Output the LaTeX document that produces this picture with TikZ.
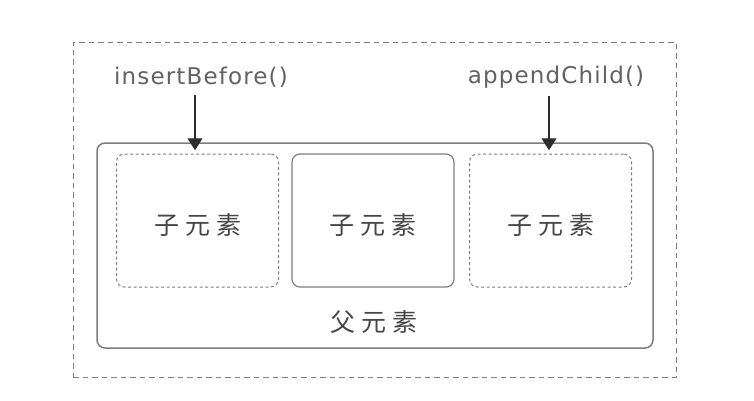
\documentclass[tikz,border=0pt]{standalone}
\usepackage{fontspec}
\usepackage{tikz}
\usetikzlibrary{arrows.meta,positioning,calc}
\newfontfamily\cjk{Noto Sans CJK SC}
\newfontfamily\apifont[LetterSpace=5]{DejaVu Sans}
\definecolor{linegray}{RGB}{125,125,125}
\definecolor{textgray}{RGB}{70,70,70}
\definecolor{arrowgray}{RGB}{45,45,45}

\begin{document}
\begin{tikzpicture}[x=1pt,y=-1pt,
  outerbox/.style={draw=linegray,line width=1pt,dash pattern=on 5.5pt off 4pt,minimum width=603pt,minimum height=335pt,inner sep=0pt},
  parentbox/.style={draw=linegray,line width=1.5pt,rounded corners=8pt,minimum width=556pt,minimum height=205pt,inner sep=0pt},
  childbox/.style={draw=linegray,line width=1.2pt,rounded corners=8pt,minimum width=162pt,minimum height=133pt,inner sep=0pt,
    text height=31pt,text depth=3pt,font=\cjk\fontsize{25}{28}\selectfont,text=textgray},
  ghost/.style={childbox,line width=1pt,dash pattern=on 3pt off 2.5pt},
  api/.style={font=\apifont\fontsize{23}{27}\selectfont,text=textgray!85},
  push/.style={draw=arrowgray,line width=1.2pt,-{Triangle[width=15pt,length=12pt]}}
]
  \useasboundingbox (0,0) rectangle (754,400);
  \node[outerbox] (frame) at (374.5,209.5) {};
  \node[parentbox] (parent) at (375,245.5) {};
  \node[ghost] (before) at (197.5,220.5) {子\hspace{6pt}元\hspace{6pt}素};
  \node[childbox] (child) at (373,220.5) {子\hspace{6pt}元\hspace{6pt}素};
  \node[ghost] (after) at (550.5,220.5) {子\hspace{6pt}元\hspace{6pt}素};
  \node[font=\cjk\fontsize{25}{28}\selectfont,text=textgray] (ptext) at (374,322) {父\hspace{6pt}元\hspace{6pt}素};
  \node[api] (ib) at (201,77) {insertBefore()};
  \node[api] (ac) at (556,77) {appendChild()};
  \draw[push] ([xshift=-2.5pt,yshift=-4pt]before.north |- ib.south) -- ([xshift=-2.5pt,yshift=-8pt]before.north |- parent.north);
  \draw[push] ([xshift=-1.5pt,yshift=-4pt]after.north |- ac.south) -- ([xshift=-1.5pt,yshift=-8pt]after.north |- parent.north);
\end{tikzpicture}
\end{document}
